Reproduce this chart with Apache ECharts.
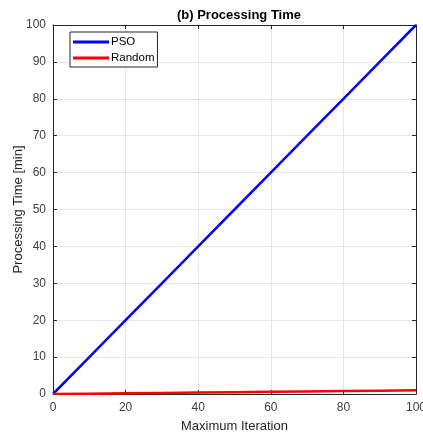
<!DOCTYPE html>
<html>
<head>
<meta charset="utf-8">
<script src="https://cdn.jsdelivr.net/npm/echarts@6/dist/echarts.min.js"></script>
<style>
  html, body { margin: 0; padding: 0; background: #fff; }
  #chart { width: 423px; height: 432px; }
</style>
</head>
<body>
<div id="chart"></div>
<script>
// data
var iterations = [0, 10, 20, 30, 40, 50, 60, 70, 80, 90, 100]
var psoTime = [0, 10, 20, 30, 40, 50, 60, 70, 80, 90, 100]
var randomTime = [0, 0.1, 0.2, 0.3, 0.4, 0.5, 0.6, 0.7, 0.8, 0.9, 1.0]
var seriesNames = ['PSO', 'Random']

function pairs(xs, ys) {
  return xs.map(function (x, i) { return [x, ys[i]] })
}

var font = 'Liberation Sans, Arial, sans-serif'
var axisColor = '#262626'

var myChart = echarts.init(document.getElementById('chart'))
var option = {
  animation: false,
  backgroundColor: '#fff',
  title: {
    text: '(b) Processing Time',
    left: 234,
    textAlign: 'center',
    top: 4,
    textStyle: { fontFamily: font, fontSize: 13, fontWeight: 'bold', color: '#000' }
  },
  legend: {
    orient: 'vertical',
    left: 70,
    top: 32,
    itemWidth: 36,
    itemHeight: 3,
    itemGap: 2,
    padding: [3, 3, 2, 3],
    borderColor: '#262626',
    borderWidth: 1,
    backgroundColor: '#fff',
    icon: 'rect',
    textStyle: { fontFamily: font, fontSize: 11.5, color: '#000', padding: [0, 0, 0, -3], lineHeight: 14 },
    data: seriesNames
  },
  grid: { left: 53, right: 7, top: 25, bottom: 38, outerBoundsMode: 'none' },
  xAxis: [{
    type: 'value',
    min: 0, max: 100, interval: 20,
    name: 'Maximum Iteration',
    nameLocation: 'middle',
    nameGap: 26,
    nameMoveOverlap: false,
    nameTextStyle: { fontFamily: font, fontSize: 13, color: axisColor },
    axisLine: { onZero: false, lineStyle: { color: axisColor, width: 1 } },
    axisTick: { inside: true, length: 4, lineStyle: { color: axisColor } },
    axisLabel: { fontFamily: font, fontSize: 12, color: '#404040', margin: 8 },
    splitLine: { show: true, lineStyle: { color: '#e6e6e6', width: 1 } }
  }, {
    type: 'value',
    position: 'top',
    min: 0, max: 100, interval: 20,
    axisLine: { onZero: false, lineStyle: { color: axisColor, width: 1 } },
    axisTick: { inside: true, length: 4, lineStyle: { color: axisColor } },
    axisLabel: { show: false },
    splitLine: { show: false }
  }],
  yAxis: [{
    type: 'value',
    min: 0, max: 100, interval: 10,
    name: 'Processing Time [min]',
    nameLocation: 'middle',
    nameGap: 28,
    nameMoveOverlap: false,
    nameTextStyle: { fontFamily: font, fontSize: 13, color: axisColor },
    axisLine: { onZero: false, lineStyle: { color: axisColor, width: 1 } },
    axisTick: { inside: true, length: 4, lineStyle: { color: axisColor } },
    axisLabel: { fontFamily: font, fontSize: 12, color: '#404040', margin: 7 },
    splitLine: { show: true, lineStyle: { color: '#e6e6e6', width: 1 } }
  }, {
    type: 'value',
    position: 'right',
    min: 0, max: 100, interval: 10,
    axisLine: { onZero: false, lineStyle: { color: axisColor, width: 1 } },
    axisTick: { inside: true, length: 4, lineStyle: { color: axisColor } },
    axisLabel: { show: false },
    splitLine: { show: false }
  }],
  series: [{
    name: seriesNames[0],
    type: 'line',
    data: pairs(iterations, psoTime),
    showSymbol: false,
    itemStyle: { color: '#0000ff' },
    lineStyle: { color: '#0000ff', width: 2.5 },
    z: 3
  }, {
    name: seriesNames[1],
    type: 'line',
    data: pairs(iterations, randomTime),
    showSymbol: false,
    itemStyle: { color: '#ff0000' },
    lineStyle: { color: '#ff0000', width: 2.5 },
    z: 4
  }]
}
myChart.setOption(option)
</script>
</body>
</html>
